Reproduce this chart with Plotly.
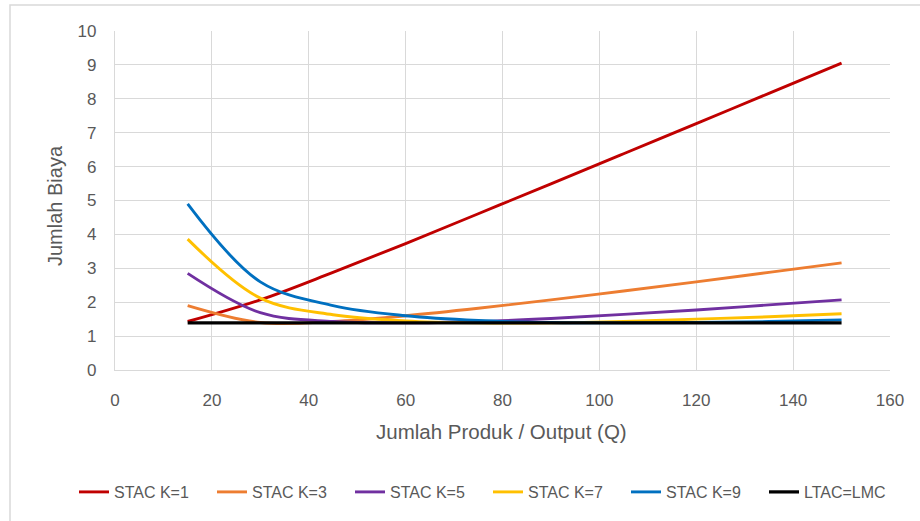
import plotly.graph_objects as go

# Output levels (Q) at which the curves are plotted
q = [15, 30, 45, 60, 75, 90, 105, 120, 135, 150]

# Short-run average cost curves
stac_k1 = [1.43, 2.07, 2.88, 3.73, 4.61, 5.49, 6.38, 7.27, 8.16, 9.05]
stac_k3 = [1.90, 1.40, 1.43, 1.60, 1.82, 2.07, 2.33, 2.60, 2.88, 3.16]
stac_k5 = [2.85, 1.69, 1.43, 1.39, 1.43, 1.52, 1.64, 1.77, 1.92, 2.07]
stac_k7 = [3.86, 2.12, 1.63, 1.45, 1.39, 1.39, 1.43, 1.50, 1.57, 1.66]
stac_k9 = [4.90, 2.60, 1.90, 1.60, 1.46, 1.40, 1.39, 1.40, 1.43, 1.48]
ltac = [1.39, 1.39, 1.39, 1.39, 1.39, 1.39, 1.39, 1.39, 1.39, 1.39]

names = ["STAC K=1", "STAC K=3", "STAC K=5", "STAC K=7", "STAC K=9", "LTAC=LMC"]
series = [stac_k1, stac_k3, stac_k5, stac_k7, stac_k9, ltac]
colors = ["#C00000", "#ED7D31", "#7030A0", "#FFC000", "#0070C0", "#000000"]
widths = [2.9, 2.9, 2.9, 2.9, 2.9, 3.25]

x_ticks = [0, 20, 40, 60, 80, 100, 120, 140, 160]
y_ticks = [0, 1, 2, 3, 4, 5, 6, 7, 8, 9, 10]

FONT = "Liberation Sans, Arial, sans-serif"
TXT = "#595959"
GRID = "#D9D9D9"

fig = go.Figure()
for n, s, c, w in zip(names, series, colors, widths):
    fig.add_trace(go.Scatter(
        x=q, y=s, name=n, mode="lines",
        line=dict(color=c, width=w, shape="spline", smoothing=1.0),
    ))

# plot area in px: x 115..890, y 31..370
L, R, T, B = 115, 30, 31, 151
W, H = 920, 521
pw = W - L - R
ph = H - T - B

def px2x(px):
    return (px - L) / pw

def py2y(py):
    return (H - B - py) / ph

fig.update_layout(
    width=W, height=H,
    margin=dict(l=L, r=R, t=T, b=B, autoexpand=False),
    paper_bgcolor="white", plot_bgcolor="white",
    font=dict(family=FONT, color=TXT, size=16),
    showlegend=True,
    legend=dict(
        orientation="h",
        x=px2x(74), xanchor="left",
        y=py2y(492), yanchor="middle",
        entrywidth=93, entrywidthmode="pixels",
        font=dict(size=16, color=TXT, family=FONT),
        bgcolor="rgba(0,0,0,0)",
        traceorder="normal",
    ),
    xaxis=dict(
        range=[0, 160], tickvals=x_ticks, ticktext=[str(v) for v in x_ticks],
        showgrid=True, gridcolor=GRID, gridwidth=1.3,
        showline=True, linecolor=GRID, linewidth=1.3,
        zeroline=False, ticks="", ticklabelstandoff=14,
        tickfont=dict(size=17, color=TXT, family=FONT),
        fixedrange=True, automargin=False,
    ),
    yaxis=dict(
        range=[0, 10], tickvals=y_ticks, ticktext=[str(v) for v in y_ticks],
        showgrid=True, gridcolor=GRID, gridwidth=1.3,
        showline=True, linecolor=GRID, linewidth=1.3,
        zeroline=False, ticks="", ticklabelstandoff=14,
        tickfont=dict(size=17, color=TXT, family=FONT),
        fixedrange=True, automargin=False,
    ),
    annotations=[
        dict(text="Jumlah Produk / Output (Q)", xref="paper", yref="paper",
             x=px2x(501.5), y=py2y(432), xanchor="center", yanchor="middle",
             showarrow=False, font=dict(size=20.5, color=TXT, family=FONT)),
        dict(text="Jumlah Biaya", xref="paper", yref="paper",
             x=px2x(55), y=py2y(206), xanchor="center", yanchor="middle",
             textangle=-90, showarrow=False,
             font=dict(size=20, color=TXT, family=FONT)),
    ],
    shapes=[
        dict(type="rect", xref="paper", yref="paper",
             x0=px2x(10), x1=px2x(930), y0=py2y(535), y1=py2y(5),
             line=dict(color=GRID, width=1.5), fillcolor="rgba(0,0,0,0)",
             layer="below"),
    ],
)

fig.write_html("out.html", config=dict(displayModeBar=False))
